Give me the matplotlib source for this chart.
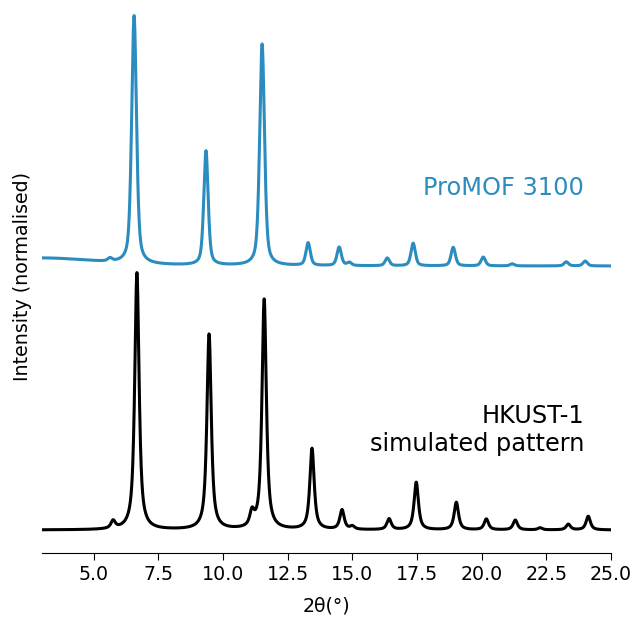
import numpy as np
import matplotlib
matplotlib.use("Agg")
import matplotlib.pyplot as plt

# peak positions (2theta), heights (normalised) and half widths
sim_pos = [5.75, 6.67, 9.46, 11.12, 11.59, 13.44, 14.60, 15.00, 16.42, 17.47,
           19.02, 20.18, 21.30, 22.26, 23.35, 24.12]
sim_height = [0.030, 1.000, 0.760, 0.055, 0.895, 0.315, 0.076, 0.012, 0.042, 0.185,
              0.107, 0.042, 0.038, 0.008, 0.022, 0.053]
sim_hw = [0.10] * len(sim_pos)

exp_pos = [3.00, 5.63, 6.56, 9.34, 11.51, 13.29, 14.49, 14.88, 16.35, 17.35,
           18.90, 20.06, 21.18, 23.27, 24.00]
exp_height = [0.031, 0.012, 0.965, 0.445, 0.862, 0.088, 0.072, 0.012, 0.030, 0.088,
              0.072, 0.034, 0.008, 0.016, 0.019]
exp_hw = [2.5, 0.10, 0.11, 0.10, 0.11, 0.10, 0.10, 0.10, 0.10, 0.10,
          0.10, 0.10, 0.10, 0.10, 0.10]
exp_base = 0.027
exp_offset = 1.0

two_theta = np.linspace(3, 25, 4000)


def pattern(pos, height, hw, eta):
    y = np.zeros_like(two_theta)
    for p, h, w in zip(pos, height, hw):
        d = (two_theta - p) / w
        lor = 1 / (1 + d ** 2)
        gau = np.exp(-np.log(2) * d ** 2)
        y += h * (eta * lor + (1 - eta) * gau)
    return y


sim = pattern(sim_pos, sim_height, sim_hw, 0.8)
exp = pattern(exp_pos, exp_height, exp_hw, 0.5) + exp_base + exp_offset

fig = plt.figure(figsize=(6.35, 6.17), dpi=100)
ax = fig.add_axes([42 / 635, 64 / 617, 569 / 635, 553 / 617])

blue = "#2a8cbf"
ax.plot(two_theta, sim, color="black", lw=2.2)
ax.plot(two_theta, exp, color=blue, lw=2.2)

ax.text(23.97, 1.33, "ProMOF 3100", color=blue, fontsize=17.3, ha="right", va="center")
ax.text(23.97, 0.39, "HKUST-1\nsimulated pattern", color="black", fontsize=17.3,
        ha="right", va="center", linespacing=1.2)

ax.set_xlim(3, 25)
ax.set_ylim(-0.0895, 2.062)
ax.set_yticks([])
for s in ["left", "right", "top"]:
    ax.spines[s].set_visible(False)
ax.tick_params(axis="x", labelsize=13.7, length=5)
ax.set_xlabel("2θ(°)", fontsize=13.7, labelpad=9)
ax.set_ylabel("Intensity (normalised)", fontsize=13.7, labelpad=7)

fig.savefig("out.png", dpi=100)
